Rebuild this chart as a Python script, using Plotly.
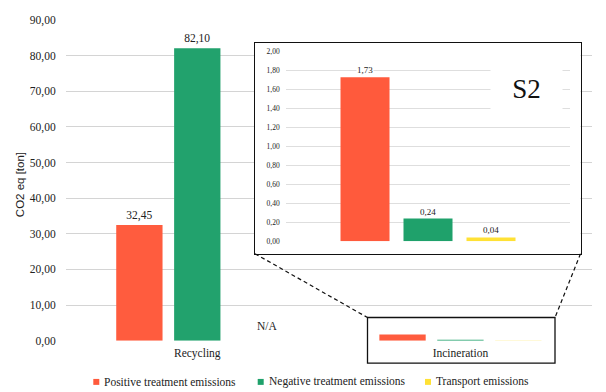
import plotly.graph_objects as go

# ---- data -------------------------------------------------------------
categories = ["Recycling", "Incineration"]
series_names = ["Positive treatment emissions",
                "Negative treatment emissions",
                "Transport emissions"]
positive = [32.45, 1.73]
negative = [82.10, 0.24]
transport = [None, 0.04]          # transport not applicable for recycling
main_ticks = [0, 10, 20, 30, 40, 50, 60, 70, 80, 90]
inset_ticks = [0.0, 0.2, 0.4, 0.6, 0.8, 1.0, 1.2, 1.4, 1.6, 1.8, 2.0]
inset_title = "S2"
missing_label = "N/A"
y_title = "CO2 eq [ton]"

# ---- styling ----------------------------------------------------------
COLORS = ["#FF5A3C", "#1FA16B", "#FFE135"]
# main-panel fills: a hair below full opacity so sub-pixel bars stay sub-pixel
MAIN_COLORS = ["rgba(255,90,60,0.99)", "rgba(31,161,107,0.99)",
               "rgba(255,225,53,0.99)"]
SERIF = "Liberation Serif, Times New Roman, serif"
SANS = "Liberation Sans, Arial, sans-serif"
W, H = 606, 392
Y_SCALE, Y_OFF = 0.973, 3.2   # vertical layout calibration


def px(x):
    return x / W


def py(y):
    return 1 - ((y - Y_OFF) / Y_SCALE) / H


def fmt(v):
    return f"{v:.2f}".replace(".", ",")


series = [positive, negative, transport]
fig = go.Figure()

# main grouped bars
for name, vals, color in zip(series_names, series, MAIN_COLORS):
    labels = [fmt(v) if (c == "Recycling" and v is not None) else ""
              for c, v in zip(categories, vals)]
    fig.add_trace(go.Bar(
        x=categories, y=vals, name=name, marker_color=color,
        marker_line_width=0,
        text=labels, textposition="outside", constraintext="none",
        textfont=dict(family=SERIF, size=11.5, color="#222"),
        cliponaxis=False, xaxis="x", yaxis="y", showlegend=False))

# frame of the magnified panel
fig.add_trace(go.Scatter(x=[], y=[], xaxis="x2", yaxis="y2",
                         showlegend=False, hoverinfo="skip"))

# magnified incineration bars
zoom_idx = categories.index("Incineration")
annotations = []
for i, (name, vals, color) in enumerate(zip(series_names, series, COLORS)):
    v = vals[zoom_idx]
    fig.add_trace(go.Bar(
        x=[i], y=[v], name=name, marker_color=color, marker_line_width=0,
        width=0.778, offset=-0.389, xaxis="x3", yaxis="y3",
        showlegend=False))
    annotations.append(dict(
        x=i, y=v, xref="x3", yref="y3", text=fmt(v), showarrow=False,
        xanchor="center", yanchor="bottom", yshift=1, bgcolor="white",
        borderpad=0, font=dict(family=SERIF, size=9, color="#222")))

annotations += [
    dict(x=px(526.5), y=py(87), xref="paper", yref="paper",
         text=inset_title, showarrow=False, width=69, height=48,
         xanchor="center", yanchor="middle",
         bgcolor="white", font=dict(family=SERIF, size=27, color="#111")),
    dict(x=px(255), y=py(325), xref="paper", yref="paper",
         text=missing_label, showarrow=False,
         xanchor="left", yanchor="middle",
         font=dict(family=SERIF, size=11.5, color="#222")),
    dict(x=px(19.5), y=py(183), xref="paper", yref="paper",
         text=y_title, showarrow=False, textangle=-90,
         xanchor="center", yanchor="middle",
         font=dict(family=SANS, size=11.5, color="#222")),
]

shapes = [
    # zoom window around the incineration bars
    dict(type="rect", xref="paper", yref="paper",
         x0=px(367.5), x1=px(555), y0=py(316.7), y1=py(362.7),
         line=dict(color="#111", width=1.3), layer="above"),
    # connectors to the magnified panel
    dict(type="line", xref="paper", yref="paper",
         x0=px(255), y0=py(252.5), x1=px(367.5), y1=py(316.7),
         line=dict(color="#111", width=1.2, dash="4px,3px"), layer="above"),
    dict(type="line", xref="paper", yref="paper",
         x0=px(580.5), y0=py(252.5), x1=px(555), y1=py(316.7),
         line=dict(color="#111", width=1.2, dash="4px,3px"), layer="above"),
]

# legend
legend_x = [93.3, 257.7, 425.0]
for name, color, lx in zip(series_names, COLORS, legend_x):
    shapes.append(dict(type="rect", xref="paper", yref="paper",
                       x0=px(lx), x1=px(lx + 6), y0=py(378.5), y1=py(384.5),
                       fillcolor=color, line=dict(width=0), layer="above"))
    annotations.append(dict(x=px(lx + 9), y=py(381.5), xref="paper",
                            yref="paper", text=name, showarrow=False,
                            xanchor="left", yanchor="middle",
                            font=dict(family=SERIF, size=11.5, color="#222")))

fig.update_layout(
    width=W, height=H,
    margin=dict(l=0, r=0, t=0, b=0),
    paper_bgcolor="white", plot_bgcolor="white",
    separators=",.",
    barmode="group", bargap=0.34, bargroupgap=0.2,
    showlegend=False,
    font=dict(family=SERIF, color="#222"),
    xaxis=dict(domain=[px(65.7), px(592)], anchor="y",
               type="category", categoryarray=categories,
               showgrid=False, zeroline=False, showline=False, ticks="",
               ticklabelstandoff=4,
               tickfont=dict(family=SERIF, size=11.5, color="#222")),
    yaxis=dict(domain=[py(340), py(17.3)], anchor="x",
               range=[0, 90], tickvals=main_ticks, tickformat=".2f",
               showgrid=True, gridcolor="#d4d4d4", gridwidth=1,
               zeroline=False, showline=False, ticks="",
               ticklabelstandoff=9,
               tickfont=dict(family=SERIF, size=11.5, color="#222")),
    xaxis2=dict(domain=[px(254.5), px(580.5)], anchor="y2", range=[0, 1],
                showgrid=False, zeroline=False, showticklabels=False,
                ticks="", showline=True, mirror=True,
                linecolor="#111", linewidth=1.3, fixedrange=True),
    yaxis2=dict(domain=[py(252.5), py(40)], anchor="x2", range=[0, 1],
                showgrid=False, zeroline=False, showticklabels=False,
                ticks="", showline=True, mirror=True,
                linecolor="#111", linewidth=1.3, fixedrange=True),
    xaxis3=dict(domain=[px(285.7), px(570)], anchor="y3",
                range=[-1.259, 3.254],
                showgrid=False, zeroline=False, showticklabels=False,
                ticks="", showline=False),
    yaxis3=dict(domain=[py(240), py(49)], anchor="x3",
                range=[0, 2], tickvals=inset_ticks, tickformat=".2f",
                showgrid=True, gridcolor="#dedede", gridwidth=1,
                zeroline=False, showline=False, ticks="",
                ticklabelstandoff=5,
                tickfont=dict(family=SERIF, size=7.5, color="#222")),
    annotations=annotations,
    shapes=shapes,
)

fig.write_html("out.html")
